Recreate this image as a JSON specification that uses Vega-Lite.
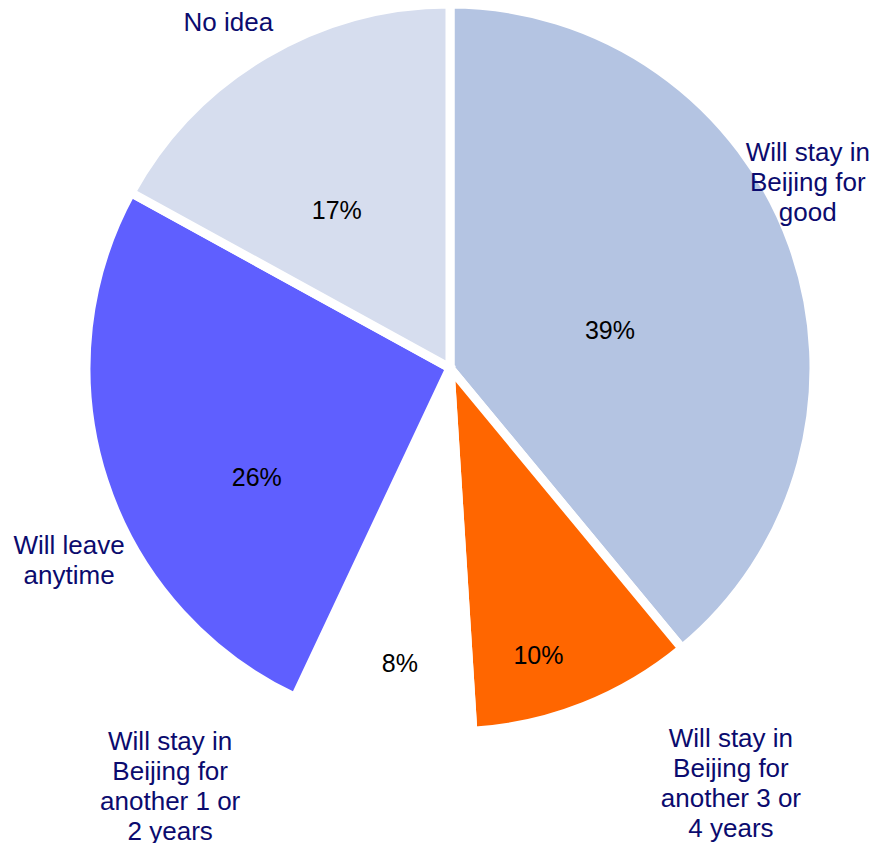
{
  "$schema": "https://vega.github.io/schema/vega-lite/v6.json",
  "width": 880,
  "height": 736,
  "autosize": {"type": "none"},
  "padding": {"left": 10, "top": 0, "right": 0, "bottom": 107},
  "background": "white",
  "config": {"view": {"stroke": null}, "text": {"font": "Liberation Sans"}},
  "data": {
    "values": [
      {"category": "Will stay in Beijing for good", "wrapped": "Will stay in\nBeijing for\ngood", "value": 39, "label": "39%", "order": 1},
      {"category": "Will stay in Beijing for another 3 or 4 years", "wrapped": "Will stay in\nBeijing for\nanother 3 or\n4 years", "value": 10, "label": "10%", "order": 2},
      {"category": "Will stay in Beijing for another 1 or 2 years", "wrapped": "Will stay in\nBeijing for\nanother 1 or\n2 years", "value": 8, "label": "8%", "order": 3},
      {"category": "Will leave anytime", "wrapped": "Will leave\nanytime", "value": 26, "label": "26%", "order": 4},
      {"category": "No idea", "wrapped": "No idea", "value": 17, "label": "17%", "order": 5}
    ]
  },
  "encoding": {
    "theta": {"field": "value", "type": "quantitative", "stack": true},
    "order": {"field": "order", "type": "quantitative"}
  },
  "layer": [
    {
      "mark": {"type": "arc", "outerRadius": 364, "stroke": "white", "strokeWidth": 9},
      "encoding": {
        "color": {
          "field": "category",
          "type": "nominal",
          "legend": null,
          "scale": {
            "domain": ["Will stay in Beijing for good", "Will stay in Beijing for another 3 or 4 years", "Will stay in Beijing for another 1 or 2 years", "Will leave anytime", "No idea"],
            "range": ["#b4c4e2", "#ff6600", "#ffffff", "#5f5fff", "#d6ddee"]
          }
        }
      }
    },
    {
      "mark": {"type": "text", "radius": 170, "dy": 21, "fontSize": 25, "color": "black"},
      "encoding": {"text": {"condition": {"test": "datum.order === 1", "field": "label", "type": "nominal"}, "value": ""}}
    },
    {
      "mark": {"type": "text", "radius": 300, "dx": -22, "dy": 9, "fontSize": 25, "color": "black"},
      "encoding": {"text": {"condition": {"test": "datum.order === 2", "field": "label", "type": "nominal"}, "value": ""}}
    },
    {
      "mark": {"type": "text", "radius": 300, "dx": 6, "dy": 1, "fontSize": 25, "color": "black"},
      "encoding": {"text": {"condition": {"test": "datum.order === 3", "field": "label", "type": "nominal"}, "value": ""}}
    },
    {
      "mark": {"type": "text", "radius": 200, "dx": -3, "dy": 48, "fontSize": 25, "color": "black"},
      "encoding": {"text": {"condition": {"test": "datum.order === 4", "field": "label", "type": "nominal"}, "value": ""}}
    },
    {
      "mark": {"type": "text", "radius": 195, "dx": -14, "dy": 11, "fontSize": 25, "color": "black"},
      "encoding": {"text": {"condition": {"test": "datum.order === 5", "field": "label", "type": "nominal"}, "value": ""}}
    },
    {
      "mark": {"type": "text", "radius": 410, "dx": -28, "dy": -76, "fontSize": 26, "lineHeight": 30, "lineBreak": "\n", "color": "#0b0b6e"},
      "encoding": {"text": {"condition": {"test": "datum.order === 1", "field": "wrapped", "type": "nominal"}, "value": ""}}
    },
    {
      "mark": {"type": "text", "radius": 410, "dx": 130, "dy": -10, "fontSize": 26, "lineHeight": 30, "lineBreak": "\n", "color": "#0b0b6e"},
      "encoding": {"text": {"condition": {"test": "datum.order === 2", "field": "wrapped", "type": "nominal"}, "value": ""}}
    },
    {
      "mark": {"type": "text", "radius": 410, "dx": -203, "dy": -29, "fontSize": 26, "lineHeight": 30, "lineBreak": "\n", "color": "#0b0b6e"},
      "encoding": {"text": {"condition": {"test": "datum.order === 3", "field": "wrapped", "type": "nominal"}, "value": ""}}
    },
    {
      "mark": {"type": "text", "radius": 410, "dx": 9, "dy": 51, "fontSize": 26, "lineHeight": 30, "lineBreak": "\n", "color": "#0b0b6e"},
      "encoding": {"text": {"condition": {"test": "datum.order === 4", "field": "wrapped", "type": "nominal"}, "value": ""}}
    },
    {
      "mark": {"type": "text", "radius": 410, "dx": -13, "dy": 8, "fontSize": 26, "lineHeight": 30, "lineBreak": "\n", "color": "#0b0b6e"},
      "encoding": {"text": {"condition": {"test": "datum.order === 5", "field": "wrapped", "type": "nominal"}, "value": ""}}
    }
  ]
}
